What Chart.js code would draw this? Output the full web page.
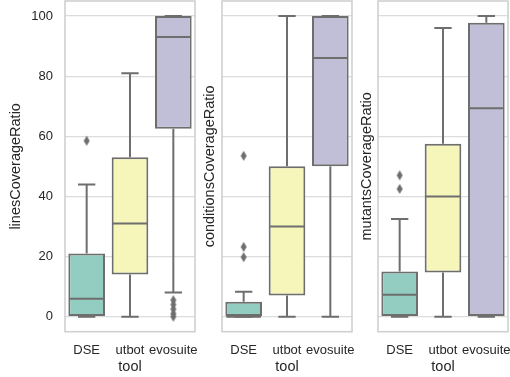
<!DOCTYPE html>
<html>
<head>
<meta charset="utf-8">
<script src="https://cdn.jsdelivr.net/npm/chart.js@4/dist/chart.umd.min.js"></script>
<style>
  html, body { margin: 0; padding: 0; background: #ffffff; }
  #wrap { position: relative; width: 510px; height: 377px; overflow: hidden; }
  #wrap canvas { position: absolute; top: 0; }
</style>
</head>
<body>
<div id="wrap">
  <canvas id="c1" width="200" height="377" style="left:0px"></canvas>
  <canvas id="c2" width="156" height="377" style="left:200px"></canvas>
  <canvas id="c3" width="154" height="377" style="left:356px"></canvas>
</div>
<script>
// Tools compared on each coverage metric
const tools = ['DSE', 'utbot', 'evosuite'];
const yTickValues = [0, 20, 40, 60, 80, 100];

// linesCoverageRatio box statistics (per tool)
const linesLow = [0, 0, 8];
const linesQ1 = [0, 14, 62.5];
const linesMedian = [6, 31, 93];
const linesQ3 = [21, 53, 100];
const linesHigh = [44, 81, 100];
const linesOutliers = [[58.5], [], [0, 1, 2.5, 4, 5.5]];

// conditionsCoverageRatio box statistics
const condLow = [0, 0, 0];
const condQ1 = [0, 7, 50];
const condMedian = [0, 30, 86];
const condQ3 = [5, 50, 100];
const condHigh = [8.3, 100, 100];
const condOutliers = [[19.8, 23.2, 53.5], [], []];

// mutantsCoverageRatio box statistics
const mutLow = [0, 0, 0];
const mutQ1 = [0, 14.7, 0];
const mutMedian = [7.3, 40, 69.3];
const mutQ3 = [15, 57.5, 97.8];
const mutHigh = [32.5, 96, 100];
const mutOutliers = [[42.5, 47], [], []];

const boxColors = ['#93ccc1', '#f6f6bb', '#c1bed7'];
const lineColor = '#6e6e6e';
const lineW = 2;
const fontFamily = '"Liberation Sans", Arial, sans-serif';
const textColor = '#262626';

// thin diamond used for flier points
function diamondMarker() {
  const c = document.createElement('canvas');
  c.width = 8; c.height = 12;
  const g = c.getContext('2d');
  g.fillStyle = lineColor;
  g.beginPath();
  g.moveTo(4, 1); g.lineTo(7, 6); g.lineTo(4, 11); g.lineTo(1, 6);
  g.closePath();
  g.fill();
  return c;
}
const flierMarker = diamondMarker();

// whiskers, caps, medians and the axes frame drawn with the chart's scales
const boxPlotParts = {
  id: 'boxPlotParts',
  beforeDatasetsDraw(chart) {
    const { ctx, scales: { x, y } } = chart;
    const st = chart.options.plugins.boxPlotParts;
    const meta = chart.getDatasetMeta(0);
    ctx.save();
    ctx.strokeStyle = lineColor;
    ctx.lineWidth = lineW;
    tools.forEach((t, i) => {
      const cx = x.getPixelForValue(i);
      const capHalf = (meta.data[i].width - lineW) / 4;
      const yLow = y.getPixelForValue(st.low[i]);
      const yHigh = y.getPixelForValue(st.high[i]);
      ctx.beginPath();
      ctx.moveTo(cx, y.getPixelForValue(st.q1[i]));
      ctx.lineTo(cx, yLow);
      ctx.moveTo(cx, y.getPixelForValue(st.q3[i]));
      ctx.lineTo(cx, yHigh);
      ctx.moveTo(cx - capHalf, yLow);
      ctx.lineTo(cx + capHalf, yLow);
      ctx.moveTo(cx - capHalf, yHigh);
      ctx.lineTo(cx + capHalf, yHigh);
      ctx.stroke();
    });
    ctx.restore();
  },
  afterDatasetsDraw(chart) {
    const { ctx, chartArea, scales: { x, y } } = chart;
    const st = chart.options.plugins.boxPlotParts;
    const meta = chart.getDatasetMeta(0);
    ctx.save();
    ctx.strokeStyle = lineColor;
    ctx.lineWidth = lineW;
    tools.forEach((t, i) => {
      const cx = x.getPixelForValue(i);
      const half = meta.data[i].width / 2 - lineW / 2;
      const my = y.getPixelForValue(st.median[i]);
      ctx.beginPath();
      ctx.moveTo(cx - half, my);
      ctx.lineTo(cx + half, my);
      ctx.stroke();
    });
    ctx.strokeStyle = '#d0d0d0';
    ctx.lineWidth = 1.6;
    ctx.strokeRect(chartArea.left, chartArea.top, chartArea.right - chartArea.left, chartArea.bottom - chartArea.top);
    ctx.restore();
  }
};

function makePanel(id, title, stats, opts) {
  const flierPoints = [];
  stats.outliers.forEach((vals, i) => vals.forEach(v => flierPoints.push({ x: tools[i], y: v })));
  return new Chart(document.getElementById(id), {
    type: 'bar',
    data: {
      labels: tools,
      datasets: [
        {
          data: tools.map((t, i) => [stats.q1[i], stats.q3[i]]),
          backgroundColor: boxColors,
          borderColor: lineColor,
          borderWidth: lineW,
          borderSkipped: false,
          barPercentage: 0.846,
          categoryPercentage: 1.0,
          order: 2
        },
        {
          type: 'scatter',
          data: flierPoints,
          pointStyle: flierMarker,
          pointRadius: 5,
          order: 1
        }
      ]
    },
    options: {
      responsive: false,
      animation: false,
      events: [],
      layout: { autoPadding: false, padding: { top: 1, right: opts.padRight, left: 0, bottom: 0 } },
      plugins: {
        legend: { display: false },
        tooltip: { enabled: false },
        boxPlotParts: stats
      },
      scales: {
        x: {
          type: 'category',
          offset: true,
          grid: { display: false, drawTicks: false },
          border: { display: false },
          ticks: { color: textColor, font: { family: fontFamily, size: 13 }, padding: 11, maxRotation: 0, autoSkip: false },
          title: { display: true, text: 'tool', color: textColor, font: { family: fontFamily, size: 14.5 }, padding: { top: 0, bottom: 1.5 } },
          afterFit(s) { s.height = 45.3; s.paddingLeft = 0; s.paddingRight = 0; }
        },
        y: {
          min: -5,
          max: 105,
          afterBuildTicks(s) { s.ticks = yTickValues.map(v => ({ value: v })); },
          grid: { color: '#dcdcdc', lineWidth: 1.2, drawTicks: false },
          border: { display: false },
          ticks: { display: opts.showTicks, color: textColor, font: { family: fontFamily, size: 13 }, padding: 12 },
          title: { display: true, text: title, color: textColor, font: { family: fontFamily, size: 14.5 }, padding: { top: opts.titlePad, bottom: 0 } },
          afterFit(s) { s.width = opts.axisWidth; s.paddingTop = 0; s.paddingBottom = 0; }
        }
      }
    },
    plugins: [boxPlotParts]
  });
}

makePanel('c1', 'linesCoverageRatio',
  { low: linesLow, q1: linesQ1, median: linesMedian, q3: linesQ3, high: linesHigh, outliers: linesOutliers },
  { axisWidth: 65, padRight: 5, showTicks: true, titlePad: 7.5 });
makePanel('c2', 'conditionsCoverageRatio',
  { low: condLow, q1: condQ1, median: condMedian, q3: condQ3, high: condHigh, outliers: condOutliers },
  { axisWidth: 22, padRight: 4, showTicks: false, titlePad: 1.3 });
makePanel('c3', 'mutantsCoverageRatio',
  { low: mutLow, q1: mutQ1, median: mutMedian, q3: mutQ3, high: mutHigh, outliers: mutOutliers },
  { axisWidth: 22, padRight: 2, showTicks: false, titlePad: 2 });
</script>
</body>
</html>
